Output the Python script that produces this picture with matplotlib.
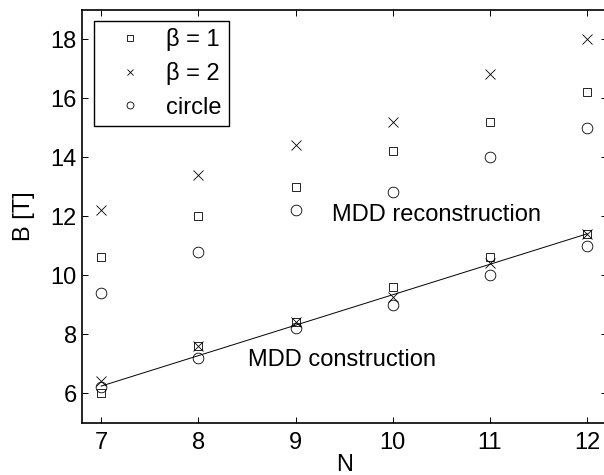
import matplotlib
matplotlib.use("Agg")
import matplotlib.pyplot as plt
from matplotlib.lines import Line2D
import numpy as np

plt.rcParams['font.family'] = ['Liberation Sans', 'DejaVu Sans']

N = [7, 8, 9, 10, 11, 12]

# MDD reconstruction (upper group)
rec_beta1 = [10.6, 12.0, 13.0, 14.2, 15.2, 16.2]
rec_beta2 = [12.2, 13.4, 14.4, 15.2, 16.8, 18.0]
rec_circle = [9.4, 10.8, 12.2, 12.8, 14.0, 15.0]

# MDD construction (lower group)
con_beta1 = [6.0, 7.6, 8.4, 9.6, 10.6, 11.4]
con_beta2 = [6.4, 7.6, 8.4, 9.25, 10.4, 11.4]
con_circle = [6.2, 7.2, 8.2, 9.0, 10.0, 11.0]

# straight line through the construction values
line_N = [7, 12]
line_B = [6.24, 11.4]

legend_labels = ['β = 1', 'β = 2', 'circle']

fig = plt.figure(figsize=(6.04, 4.75), dpi=100)
ax = fig.add_axes([0.1353, 0.1101, 0.869, 0.8699])

sq = dict(marker='s', ls='none', mfc='none', mec='k', ms=5.4, mew=0.6)
xx = dict(marker='x', ls='none', color='k', ms=7.2, mew=0.6)
cc = dict(marker='o', ls='none', mfc='none', mec='k', ms=7.7, mew=0.6)

ax.plot(N, rec_beta1, **sq)
ax.plot(N, rec_beta2, **xx)
ax.plot(N, rec_circle, **cc)
ax.plot(N, con_beta1, **sq)
ax.plot(N, con_beta2, **xx)
ax.plot(N, con_circle, **cc)
ax.plot(line_N, line_B, color='k', lw=0.7)

ax.set_xlim(6.8, 12.2)
ax.set_ylim(5, 19)
ax.set_xticks(N)
ax.set_yticks([6, 8, 10, 12, 14, 16, 18])
for s in ax.spines.values():
    s.set_linewidth(1.2)
ax.tick_params(direction='in', top=True, right=True, labelsize=17,
               length=4, width=0.7)
ax.tick_params(axis='x', pad=7)
ax.set_xlabel('N', fontsize=17, labelpad=0)
ax.set_ylabel('B [T]', fontsize=17, labelpad=11)

ax.text(9.37, 12.05, 'MDD reconstruction', fontsize=17, va='center')
ax.text(8.51, 7.12, 'MDD construction', fontsize=17, va='center')

# legend markers are drawn a bit smaller than in the plot
handles = [
    Line2D([], [], marker='s', ls='none', mfc='none', mec='k', ms=5.0, mew=0.6),
    Line2D([], [], marker='x', ls='none', color='k', ms=4.5, mew=0.6),
    Line2D([], [], marker='o', ls='none', mfc='none', mec='k', ms=5.0, mew=0.6),
]
leg = ax.legend(handles, legend_labels, loc='upper left', fontsize=17,
                fancybox=False, edgecolor='k', framealpha=1,
                handlelength=2.46, handletextpad=0.32,
                borderaxespad=0.5, labelspacing=0.47, borderpad=0.3)
leg.get_frame().set_linewidth(1.0)

fig.savefig('out.png', dpi=100)
